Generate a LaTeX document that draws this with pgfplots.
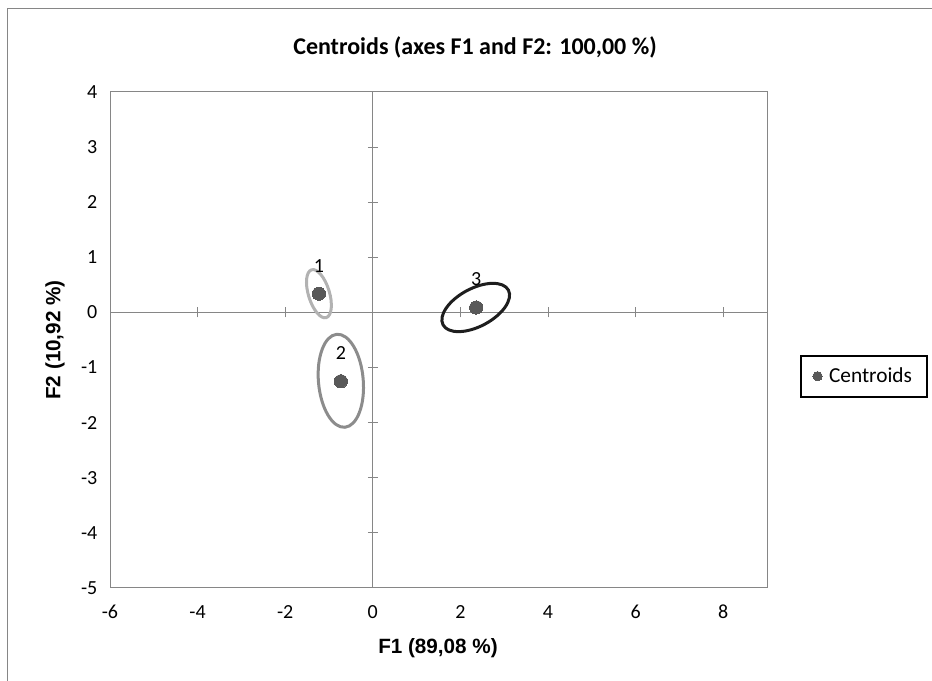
\documentclass[border=0pt]{standalone}
\usepackage{pgfplots}
\pgfplotsset{compat=1.18}
\usepackage{fontspec}
\setmainfont{Carlito}
\newfontfamily\arialfont{Liberation Sans}
\definecolor{axgray}{RGB}{134,134,134}
\definecolor{ptgray}{RGB}{89,89,89}
\definecolor{ellone}{RGB}{178,178,178}
\definecolor{elltwo}{RGB}{140,140,140}
\definecolor{ellthree}{RGB}{30,30,30}
\pgfplotstableread{
x y label
-1.23 0.34 1
-0.73 -1.25 2
2.36 0.09 3
}\centroids
\tikzset{xt/.style={axgray, line width=0.75pt}}
\begin{document}
\begin{tikzpicture}[x=0.75pt,y=0.75pt]
\useasboundingbox (0,0) rectangle (932,681);
\begin{scope}
\clip (0,0) rectangle (932,681);
\draw[axgray, line width=0.75pt] (7,-10) -- (7,672) -- (950,672);
\end{scope}
\begin{axis}[
  at={(82.5pt,69.75pt)}, anchor=south west,
  scale only axis, width=492.75pt, height=372pt,
  xmin=-6, xmax=9, ymin=-5, ymax=4,
  xtick={-6,-4,-2,0,2,4,6,8}, ytick={-5,-4,-3,-2,-1,0,1,2,3,4},
  major tick length=0pt,
  axis line style={axgray, line width=0.75pt},
  /pgf/number format/assume math mode=true,
  tick label style={font=\fontsize{15}{18}\selectfont, black},
  xticklabel style={yshift=-8pt, text height=11pt, text depth=2pt},
  yticklabel style={xshift=-6pt},
  legend style={at={(1.050,0.427)}, anchor=west, draw=black, line width=1.5pt,
    font=\fontsize{16}{19}\selectfont, inner xsep=9pt, inner ysep=7pt},
  clip=false,
]
\draw[xt] (axis cs:0,-5) -- (axis cs:0,4);
\draw[xt] (axis cs:-6,0) -- (axis cs:9,0);
\draw[xt] ([yshift=-3.75pt]axis cs:-6,0) -- ([yshift=3.75pt]axis cs:-6,0);
\draw[xt] ([yshift=-3.75pt]axis cs:-4,0) -- ([yshift=3.75pt]axis cs:-4,0);
\draw[xt] ([yshift=-3.75pt]axis cs:-2,0) -- ([yshift=3.75pt]axis cs:-2,0);
\draw[xt] ([yshift=-3.75pt]axis cs:2,0) -- ([yshift=3.75pt]axis cs:2,0);
\draw[xt] ([yshift=-3.75pt]axis cs:4,0) -- ([yshift=3.75pt]axis cs:4,0);
\draw[xt] ([yshift=-3.75pt]axis cs:6,0) -- ([yshift=3.75pt]axis cs:6,0);
\draw[xt] ([yshift=-3.75pt]axis cs:8,0) -- ([yshift=3.75pt]axis cs:8,0);
\draw[xt] ([xshift=-3.75pt]axis cs:0,-5) -- ([xshift=3.75pt]axis cs:0,-5);
\draw[xt] ([xshift=-3.75pt]axis cs:0,-4) -- ([xshift=3.75pt]axis cs:0,-4);
\draw[xt] ([xshift=-3.75pt]axis cs:0,-3) -- ([xshift=3.75pt]axis cs:0,-3);
\draw[xt] ([xshift=-3.75pt]axis cs:0,-2) -- ([xshift=3.75pt]axis cs:0,-2);
\draw[xt] ([xshift=-3.75pt]axis cs:0,-1) -- ([xshift=3.75pt]axis cs:0,-1);
\draw[xt] ([xshift=-3.75pt]axis cs:0,1) -- ([xshift=3.75pt]axis cs:0,1);
\draw[xt] ([xshift=-3.75pt]axis cs:0,2) -- ([xshift=3.75pt]axis cs:0,2);
\draw[xt] ([xshift=-3.75pt]axis cs:0,3) -- ([xshift=3.75pt]axis cs:0,3);
\draw[xt] ([xshift=-3.75pt]axis cs:0,4) -- ([xshift=3.75pt]axis cs:0,4);
\draw[ellone, line width=2.25pt, rotate around={107:(axis cs:-1.23,0.34)}] (axis cs:-1.23,0.34) ellipse [x radius=18.75pt, y radius=7.9pt];
\draw[elltwo, line width=2.25pt, rotate around={95:(axis cs:-0.73,-1.24)}] (axis cs:-0.73,-1.24) ellipse [x radius=35pt, y radius=16.8pt];
\draw[ellthree, line width=2.25pt, rotate around={28:(axis cs:2.35,0.09)}] (axis cs:2.35,0.09) ellipse [x radius=27.75pt, y radius=14.25pt];
\addplot[only marks, mark=*, mark size=5pt, color=ptgray, line width=0pt,
  nodes near coords, point meta=explicit symbolic,
  every node near coord/.append style={anchor=center, yshift=21pt, black, font=\fontsize{15}{18}\selectfont},
  legend image code/.code={\fill[ptgray] (3.5pt,0pt) circle (3.5pt); \fill[white, opacity=0] (10pt,0pt) circle (0.1pt);}]
  table[x=x, y=y, meta=label] {\centroids};
\addlegendentry{Centroids}
\end{axis}
\node[font=\fontsize{18}{22}\selectfont\bfseries] at (475,634) {Centroids (axes F1 and F2: 100,00 \%)};
\node[font=\arialfont\fontsize{15.5}{18}\selectfont\bfseries] at (438,33) {F1 (89,08 \%)};
\node[font=\arialfont\fontsize{15.5}{18}\selectfont\bfseries, rotate=90] at (55,341) {F2 (10,92 \%)};
\end{tikzpicture}
\end{document}
